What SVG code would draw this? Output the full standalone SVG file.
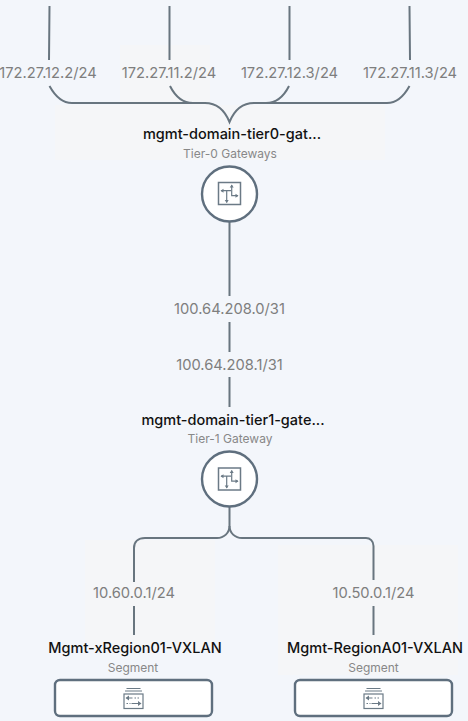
<svg xmlns="http://www.w3.org/2000/svg" width="468" height="721" viewBox="0 0 468 721">
<style>
.c{fill:none;stroke:#68757f;stroke-width:2}
.ip{font:14.700px Inter,"Liberation Sans",sans-serif;fill:#7e7e7e;text-anchor:middle}
.t{font:500 14.500px Inter,"Liberation Sans",sans-serif;fill:#111;text-anchor:middle}
.s{font:12px Inter,"Liberation Sans",sans-serif;fill:#888;text-anchor:middle}
.n{fill:#fff;stroke:#5f6f7e;stroke-width:2.4}
.i{fill:none;stroke:#6b7a86;stroke-width:1.2}
.p{fill:#f5f6f8}
</style>
<defs>
<g id="router"><rect x="-11" y="-11" width="22" height="22" class="i" style="stroke-width:1.500"/><path class="i" d="M-8.500-2.800H1.500M-2.800-2.800V9M2.200-8.500V2.200H8.500"/><path fill="#6b7a86" d="M-9-2.800l3-2v4zM2.200-9l-2 3h4zM9 2.200l-3-2v4zM-2.800 9.500l-2-3h4z"/></g>
<g id="seg"><path class="i" d="M-7-10H7M-8.500-7.500H8.500"/><rect x="-9.500" y="-4.500" width="19" height="14.500" class="i"/><path class="i" d="M-7-.5H-1M-2 5H7"/><path class="i" d="M1-.5H7M-7 5H-3" stroke-dasharray="1.500 1.500"/><path fill="#6b7a86" d="M-8-.5l3.500-2.500v5zM8 5l-3.500-2.500v5z"/></g>
</defs>
<rect width="468" height="721" fill="#f3f6fb"/>
<g id="patches">
<rect class="p" x="55" y="105" width="330" height="55"/>
<rect class="p" x="120" y="45" width="90" height="60"/>
<rect class="p" x="85" y="540" width="130" height="110"/>
<rect class="p" x="278" y="545" width="180" height="130"/>
</g>
<g id="connectors">
<path class="c" d="M49.500 6L49 60M169.500 6V60M289.500 6V60M409.500 6L410 60"/>
<path class="c" d="M49.500 86C55 96 63 103 72 103H205C217 103 225 111 229.500 122C234 111 242 103 254 103H387C396 103 404 96 409.500 86"/>
<path class="c" d="M170 86C175 96 183 103 193 103H205M289 86C284 96 276 103 266 103H254"/>
<path class="c" d="M229.500 222V296M229.500 322V352M229.500 377V407"/>
<path class="c" d="M229.500 506V526C229.500 533 224 538 217 538H145C138 538 134 542 134 548V582M134 606V635"/>
<path class="c" d="M229.500 526C229.500 533 235 538 242 538H366C370 538 373.500 541 373.500 546V580M373.500 606V635"/>
</g>
<g id="ip-labels">
<text class="ip" x="48" y="78">172.27.12.2/24</text>
<text class="ip" x="169" y="78">172.27.11.2/24</text>
<text class="ip" x="289.500" y="78">172.27.12.3/24</text>
<text class="ip" x="410" y="78">172.27.11.3/24</text>
<text class="ip" x="229.500" y="314">100.64.208.0/31</text>
<text class="ip" x="229.500" y="370">100.64.208.1/31</text>
<text class="ip" x="134" y="598">10.60.0.1/24</text>
<text class="ip" x="373.500" y="598">10.50.0.1/24</text>
</g>
<g id="tier0">
<text class="t" x="232" y="139">mgmt-domain-tier0-gat...</text>
<text class="s" x="230" y="158">Tier-0 Gateways</text>
<circle class="n" cx="229.500" cy="194" r="27.500"/>
<use href="#router" x="229.500" y="193.500"/>
</g>
<g id="tier1">
<text class="t" x="233" y="425">mgmt-domain-tier1-gate...</text>
<text class="s" x="230" y="443">Tier-1 Gateway</text>
<circle class="n" cx="229.500" cy="479" r="27.500"/>
<use href="#router" x="229.500" y="479"/>
</g>
<g id="segment-x">
<text class="t" x="135" y="653">Mgmt-xRegion01-VXLAN</text>
<text class="s" x="133" y="672">Segment</text>
<rect class="n" x="55" y="680" width="157" height="36" rx="5"/>
<use href="#seg" x="133.500" y="698.500"/>
</g>
<g id="segment-a">
<text class="t" x="375" y="653">Mgmt-RegionA01-VXLAN</text>
<text class="s" x="373.500" y="672">Segment</text>
<rect class="n" x="295" y="680" width="157" height="36" rx="5"/>
<use href="#seg" x="373.500" y="698.500"/>
</g>
</svg>
